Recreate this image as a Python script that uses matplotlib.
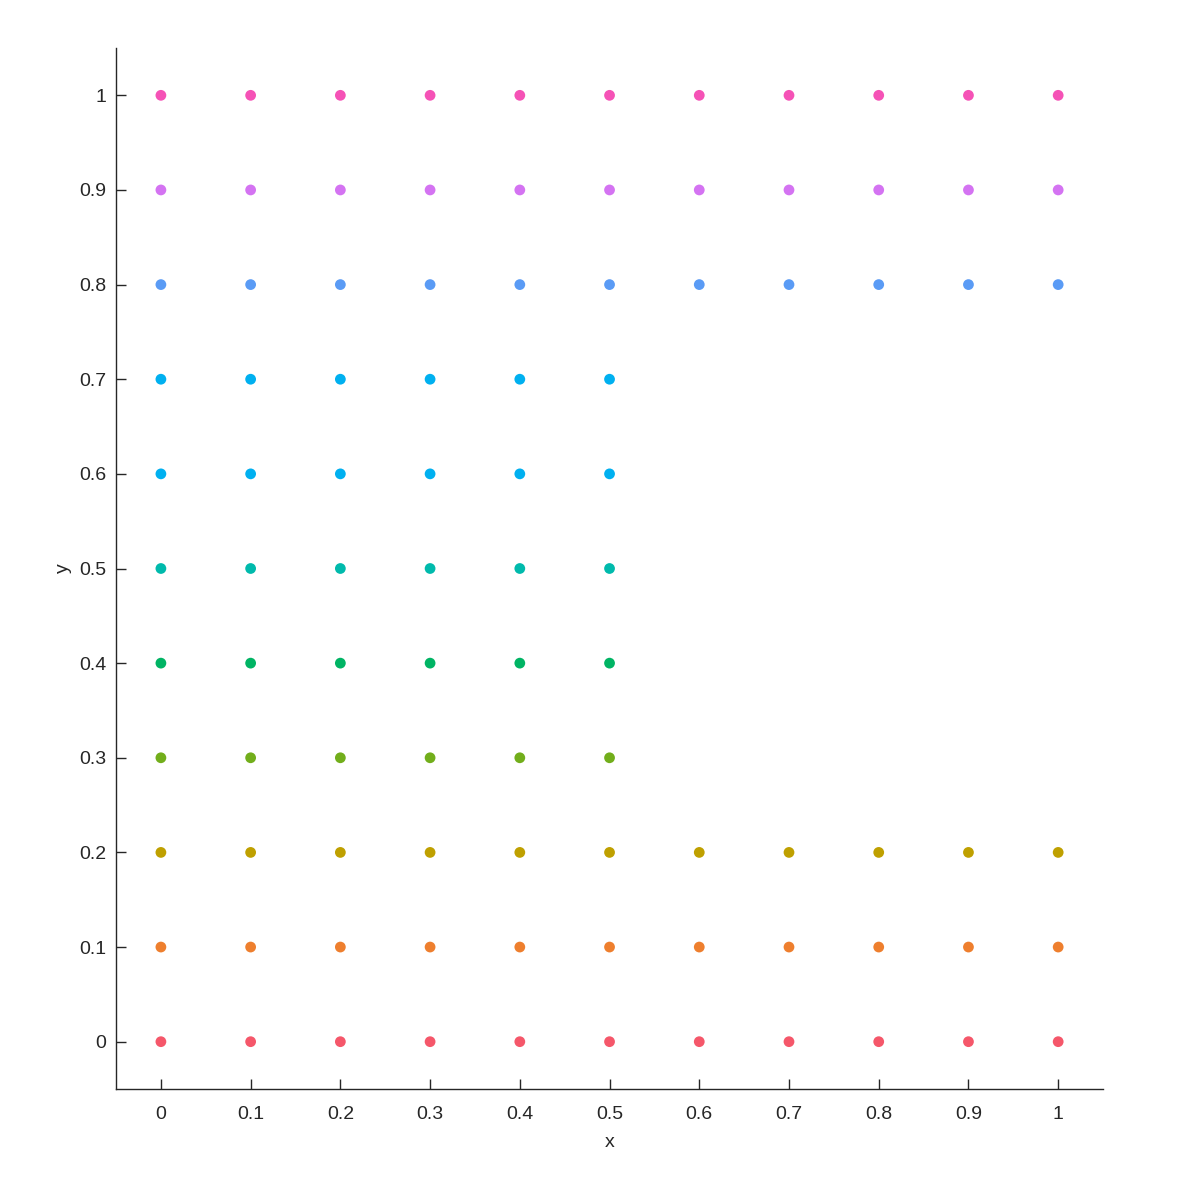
import matplotlib
matplotlib.use("Agg")
import matplotlib.pyplot as plt

plt.rcParams['font.family'] = ['Liberation Sans', 'DejaVu Sans']

x_full = [0, 0.1, 0.2, 0.3, 0.4, 0.5, 0.6, 0.7, 0.8, 0.9, 1]
x_half = [0, 0.1, 0.2, 0.3, 0.4, 0.5]
y_levels = [0, 0.1, 0.2, 0.3, 0.4, 0.5, 0.6, 0.7, 0.8, 0.9, 1]
row_x = [x_full, x_full, x_full, x_half, x_half, x_half, x_half, x_half, x_full, x_full, x_full]
colors = ['#F5576A', '#EE7F2E', '#BFA000', '#72AE1B', '#00B464', '#00BAAC',
          '#00B0F0', '#00B0F0', '#5A9BF5', '#D473F2', '#F552B6']
ticks = [0, 0.1, 0.2, 0.3, 0.4, 0.5, 0.6, 0.7, 0.8, 0.9, 1]
tick_labels = ['0', '0.1', '0.2', '0.3', '0.4', '0.5', '0.6', '0.7', '0.8', '0.9', '1']

fig = plt.figure(figsize=(12, 12), dpi=100)
ax = fig.add_axes([0.0967, 0.0925, 0.8225, 0.8675])

for yv, xs, c in zip(y_levels, row_x, colors):
    ax.scatter(xs, [yv] * len(xs), s=60, color=c, edgecolors='none', zorder=3)

ax.set_xlim(-0.05, 1.05)
ax.set_ylim(-0.05, 1.05)
ax.set_xticks(ticks)
ax.set_xticklabels(tick_labels)
ax.set_yticks(ticks)
ax.set_yticklabels(tick_labels)
for s in ['top', 'right']:
    ax.spines[s].set_visible(False)
for s in ['left', 'bottom']:
    ax.spines[s].set_color('#262626')
    ax.spines[s].set_linewidth(1.0)
ax.tick_params(direction='in', length=7, width=1.0, color='#262626',
               labelsize=14, labelcolor='#262626')
ax.tick_params(axis='x', pad=12.5)
ax.tick_params(axis='y', pad=7)
ax.set_xlabel('x', fontsize=14, color='#262626', labelpad=8)
ax.set_ylabel('y', fontsize=14, color='#262626', labelpad=5)

fig.savefig('out.png', dpi=100, facecolor='white')
